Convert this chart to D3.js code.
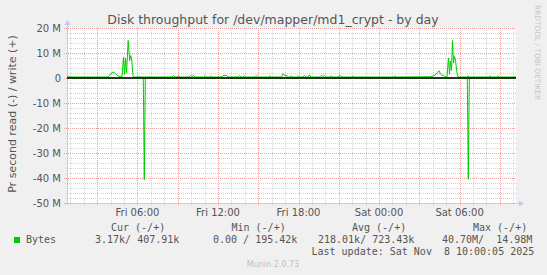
<!DOCTYPE html>
<html>
<head>
<meta charset="utf-8">
<script src="https://cdn.jsdelivr.net/npm/d3@7"></script>
<style>
  body { margin: 0; background: #f0f0f0; }
  text { font-family: "DejaVu Sans", sans-serif; }
  .mono { font-family: "DejaVu Sans Mono", monospace; white-space: pre; }
</style>
</head>
<body>
<svg id="chart"></svg>
<script>
// hours since Fri Nov 7 2025 00:00, value in M bytes/s
var writeSeries = [
  [0.747, 0.4], [0.858, 0.8], [0.970, 0.4], [3.802, 0.4], [3.914, 0.9], [4.025, 1.8],
  [4.174, 2.4], [4.323, 1.9], [4.472, 1.2], [4.621, 0.6], [4.845, 0.5], [4.957, 8.3],
  [5.031, 1.5], [5.106, 8.0], [5.180, 2.0], [5.307, 15.0], [5.419, 7.0], [5.493, 9.0],
  [5.560, 7.8], [5.665, 1.0], [5.739, 0.4], [5.963, 0.4], [6.075, 0.7], [6.186, 0.4],
  [8.571, 0.4], [8.683, 1.0], [8.794, 0.4], [8.943, 0.4], [9.055, 1.0], [9.167, 0.4],
  [9.838, 0.4], [9.950, 1.0], [10.061, 0.6], [10.173, 1.0], [10.285, 0.4],
  [10.918, 0.4], [11.030, 1.0], [11.142, 0.4], [11.365, 0.4], [11.477, 0.9], [11.589, 0.4],
  [12.297, 0.4], [12.371, 1.0], [12.669, 1.0], [12.744, 0.4],
  [13.489, 0.4], [13.601, 1.0], [13.713, 0.4], [13.862, 0.4], [13.973, 0.9], [14.085, 0.4],
  [14.718, 0.4], [14.830, 1.0], [14.942, 0.4], [15.762, 0.4], [15.873, 0.8], [15.985, 0.4],
  [16.730, 0.4], [16.842, 1.7], [16.953, 1.0], [17.140, 0.9], [17.252, 0.4],
  [17.326, 0.4], [17.438, 0.9], [17.550, 0.4], [17.848, 0.4], [17.960, 0.9], [18.071, 0.4],
  [18.332, 0.4], [18.444, 1.0], [18.556, 0.4], [18.705, 0.4], [18.817, 1.3], [18.928, 0.4],
  [19.562, 0.4], [19.674, 1.0], [19.823, 0.6], [19.934, 1.0], [20.046, 0.4],
  [20.307, 0.4], [20.419, 0.9], [20.531, 0.4], [20.941, 0.4], [21.090, 1.0], [21.239, 0.4],
  [21.946, 0.4], [22.058, 0.8], [22.170, 0.4], [25.076, 0.4], [25.188, 0.8], [25.300, 0.4],
  [27.796, 0.5], [28.019, 0.8], [28.168, 1.2], [28.317, 2.0], [28.466, 2.9], [28.578, 1.6],
  [28.690, 1.0], [28.802, 1.2], [28.913, 0.5], [29.062, 0.5], [29.174, 8.0], [29.249, 1.5],
  [29.323, 6.8], [29.398, 3.0], [29.472, 15.0], [29.547, 6.0], [29.621, 8.6], [29.696, 7.0],
  [29.808, 2.0], [29.883, 0.4], [30.516, 0.4], [30.628, 0.8], [30.739, 0.4],
  [32.155, 0.4], [32.267, 0.8], [32.379, 0.4], [32.751, 0.4], [32.863, 0.8], [32.974, 0.4],
  [34.204, 0.4]
]
var readSeries = [
  [0.747, 0], [6.432, 0], [6.507, -40.7], [6.581, 0],
  [30.575, 0], [30.650, -40.5], [30.724, 0], [34.204, 0]
]

var yTicks = [-50, -40, -30, -20, -10, 0, 10, 20]
var yTickLabels = ["-50 M", "-40 M", "-30 M", "-20 M", "-10 M", "0", "10 M", "20 M"]
var xTickLabels = ["Fri 06:00", "Fri 12:00", "Fri 18:00", "Sat 00:00", "Sat 06:00"]

var legendHeaders = ["Cur (-/+)", "Min (-/+)", "Avg (-/+)", "Max (-/+)"]
var legendValues = ["3.17k/ 407.91k", "0.00 / 195.42k", "218.01k/ 723.43k", "40.70M/  14.98M"]
var lastUpdate = "Last update: Sat Nov  8 10:00:05 2025"

var width = 547
var height = 275
var plotLeft = 67, plotRight = 516, plotTop = 28, plotBottom = 203

var base = new Date(2025, 10, 7, 0, 0, 0)
function toDate(h) { return new Date(base.getTime() + h * 3600e3) }

var x = d3.scaleTime()
  .domain([toDate(0.747), toDate(34.204)])
  .range([plotLeft, plotRight])
var y = d3.scaleLinear().domain([-50, 20]).range([plotBottom, plotTop])

var svg = d3.select("#chart").attr("width", width).attr("height", height)

svg.append("rect").attr("width", width).attr("height", height).attr("fill", "#f0f0f0")
svg.append("rect")
  .attr("x", plotLeft).attr("y", plotTop)
  .attr("width", plotRight - plotLeft).attr("height", plotBottom - plotTop)
  .attr("fill", "white")

// grid
var hours = d3.timeHour.every(1).range(x.domain()[0], x.domain()[1])
var minorX = hours.filter(d => d.getHours() % 3 != 0)
var majorX = hours.filter(d => d.getHours() % 3 == 0)
var minorY = d3.range(-50, 21, 2).filter(v => v % 10 != 0)

var grid = svg.append("g").attr("shape-rendering", "crispEdges")
grid.selectAll(".mx").data(minorX).join("line")
  .attr("x1", d => Math.round(x(d)) + 0.5).attr("x2", d => Math.round(x(d)) + 0.5)
  .attr("y1", plotTop).attr("y2", plotBottom + 2)
  .attr("stroke", "#d4d4d4").attr("stroke-dasharray", "1,1")
grid.selectAll(".my").data(minorY).join("line")
  .attr("x1", plotLeft - 2).attr("x2", plotRight)
  .attr("y1", d => Math.round(y(d)) + 0.5).attr("y2", d => Math.round(y(d)) + 0.5)
  .attr("stroke", "#d4d4d4").attr("stroke-dasharray", "1,1")
grid.selectAll(".Mx").data(majorX).join("line")
  .attr("x1", d => Math.round(x(d)) + 0.5).attr("x2", d => Math.round(x(d)) + 0.5)
  .attr("y1", plotTop).attr("y2", plotBottom + 3)
  .attr("stroke", "#eaa0a0").attr("stroke-dasharray", "1,1")
grid.selectAll(".My").data(yTicks).join("line")
  .attr("x1", plotLeft - 3).attr("x2", plotRight)
  .attr("y1", d => Math.round(y(d)) + 0.5).attr("y2", d => Math.round(y(d)) + 0.5)
  .attr("stroke", "#eaa0a0").attr("stroke-dasharray", "1,1")

// axes lines with arrows
var axisColor = "#c4c8f4"
svg.append("line").attr("x1", plotLeft + 0.5).attr("x2", plotLeft + 0.5)
  .attr("y1", plotBottom + 2).attr("y2", plotTop - 4).attr("stroke", axisColor)
svg.append("line").attr("x1", plotLeft - 2).attr("x2", plotRight + 4)
  .attr("y1", plotBottom + 0.5).attr("y2", plotBottom + 0.5).attr("stroke", axisColor)
svg.append("path").attr("d", `M${plotLeft - 2.5},${plotTop - 3} L${plotLeft + 3.5},${plotTop - 3} L${plotLeft + 0.5},${plotTop - 8} Z`)
  .attr("fill", axisColor)
svg.append("path").attr("d", `M${plotRight + 3},${plotBottom - 2.5} L${plotRight + 3},${plotBottom + 3.5} L${plotRight + 8},${plotBottom + 0.5} Z`)
  .attr("fill", axisColor)

// data lines
var line = d3.line().x(d => x(toDate(d[0]))).y(d => y(d[1]))
svg.append("path").datum(readSeries).attr("d", line)
  .attr("fill", "none").attr("stroke", "#00cc00").attr("stroke-width", 1)
svg.append("path").datum(writeSeries).attr("d", line)
  .attr("fill", "none").attr("stroke", "#00cc00").attr("stroke-width", 1)

// zero line
svg.append("line").attr("x1", plotLeft).attr("x2", plotRight)
  .attr("y1", y(0)).attr("y2", y(0))
  .attr("stroke", "black").attr("stroke-width", 1.6)

// y labels
svg.append("g").selectAll("text").data(yTicks).join("text")
  .attr("x", plotLeft - 6).attr("y", d => y(d)).attr("dy", "0.35em")
  .attr("text-anchor", "end").attr("font-size", 10).attr("fill", "#555")
  .text((d, i) => yTickLabels[i])

// x labels
var labelTimes = d3.timeHour.every(6).range(x.domain()[0], x.domain()[1])
svg.append("g").selectAll("text").data(labelTimes).join("text")
  .attr("x", d => x(d)).attr("y", 216)
  .attr("text-anchor", "middle").attr("font-size", 10).attr("fill", "#555")
  .text((d, i) => xTickLabels[i])

// titles
svg.append("text").attr("x", 273).attr("y", 24).attr("text-anchor", "middle")
  .attr("font-size", 12.5).attr("fill", "#555")
  .text("Disk throughput for /dev/mapper/md1_crypt - by day")
svg.append("text").attr("transform", "translate(16,114) rotate(-90)")
  .attr("text-anchor", "middle").attr("font-size", 11).attr("fill", "#555")
  .text("Pr second read (-) / write (+)")
svg.append("text").attr("transform", "translate(535,5) rotate(90)")
  .attr("text-anchor", "start").attr("font-size", 7.4).attr("fill", "#c4c4c4")
  .text("RRDTOOL / TOBI OETIKER")

// legend
var headerX = [111, 231.5, 352, 473]
var valueX = [95, 213, 318, 442]
var leg = svg.append("g").attr("font-size", 10).attr("fill", "#555")
leg.selectAll(".h").data(legendHeaders).join("text")
  .attr("class", "mono").attr("x", (d, i) => headerX[i]).attr("y", 230.5).text(d => d)
leg.selectAll(".v").data(legendValues).join("text")
  .attr("class", "mono").attr("x", (d, i) => valueX[i]).attr("y", 242.5).text(d => d)
leg.append("text").attr("class", "mono").attr("x", 26).attr("y", 242.5).text("Bytes")
leg.append("text").attr("class", "mono").attr("x", 311.5).attr("y", 254.5).text(lastUpdate)
svg.append("rect").attr("x", 14).attr("y", 237).attr("width", 6).attr("height", 6).attr("fill", "#00cc00")

svg.append("text").attr("x", 273).attr("y", 267).attr("text-anchor", "middle")
  .attr("font-size", 8).attr("fill", "#c0c0c0").text("Munin 2.0.73")
</script>
</body>
</html>
